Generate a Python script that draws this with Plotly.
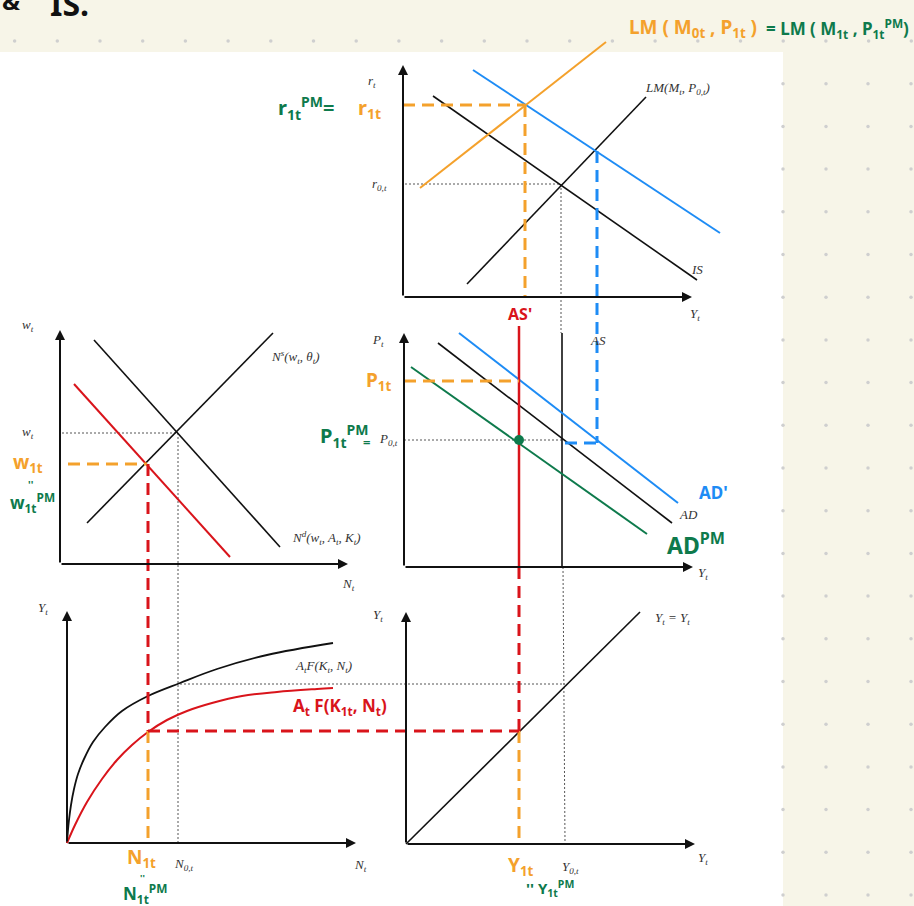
import plotly.graph_objects as go

W, H = 914, 906

# ---------------- background dot grid ----------------
dot_row_y = 41
dot_cols_x = [14.6 + 42.7 * k for k in range(22)]
side_cols_x = [783, 826, 868, 911]
side_rows_y = [41 + 42.7 * j for j in range(1, 21)]

# ---------------- panel axes (origin, top tip, right tip) ----------------
ax_origin_x = [403, 60, 404, 67, 406]
ax_origin_y = [297, 564, 567, 843, 844]
ax_top_y = [65, 330, 333, 611, 612]
ax_right_x = [692, 348, 693, 356, 695]

# ---------------- IS-LM panel ----------------
IS_x, IS_y = [433, 697], [96, 280]
LM_x, LM_y = [467, 646], [284, 97]
IS1_x, IS1_y = [473, 720], [70, 233]
LM1_x, LM1_y = [420, 606], [188, 42]

# ---------------- labour market ----------------
NS_x, NS_y = [87, 273], [523, 333]
ND_x, ND_y = [94, 280], [340, 547]
ND1_x, ND1_y = [74, 230], [384, 557]

# ---------------- AS-AD ----------------
AD_x, AD_y = [438, 672], [343, 523]
AD1_x, AD1_y = [459, 678], [333, 503]
ADPM_x, ADPM_y = [411, 647], [367, 534]
AS_x, AS_y = [562, 562], [333, 567]
AS1_x, AS1_y = [519, 519], [326, 567]
eq_pt_x, eq_pt_y = [519], [440]

# ---------------- production function ----------------
PF_x = [67, 68, 69, 71, 74, 78, 84, 93, 105, 122, 148, 180, 217, 267, 333]
PF_y = [843, 830, 820, 805, 789, 774, 759, 742, 727, 711, 696, 683, 669, 655, 643]
PF1_x = [67, 75, 87, 102, 117, 132, 148, 167, 187, 212, 242, 277, 317, 333]
PF1_y = [843, 825, 802, 779, 760, 745, 732, 720, 711, 703, 696, 692, 689, 688]

# ---------------- 45 degree ----------------
D45_x, D45_y = [406, 640], [844, 612]

# ---------------- reference (dotted) lines ----------------
dot_lines = [
    ([405, 561], [184, 184]),
    ([561, 561], [184, 333]),
    ([62, 178], [433, 433]),
    ([178, 178], [433, 843]),
    ([404, 562], [440, 440]),
    ([563, 565], [567, 843]),
    ([180, 565], [684, 684]),
]

# ---------------- dashed guides ----------------
orange_dash = [
    ([403, 525], [105, 105]),
    ([525, 525], [105, 297]),
    ([68, 147], [464, 464]),
    ([404, 519], [381, 381]),
    ([148, 148], [731, 843]),
    ([519, 519], [731, 844]),
]
red_dash = [
    ([148, 148], [464, 731]),
    ([519, 519], [567, 731]),
    ([148, 519], [731, 731]),
]
blue_dash = [
    ([597, 597], [151, 443]),
    ([565, 597], [443, 443]),
]

ORANGE = "#F4A12C"
BLUE = "#1E8CF5"
RED = "#D9141B"
GREEN = "#0E7A4C"
BLACK = "#111111"

fig = go.Figure()


def seg(x, y, color, width=1.6, dash="solid", shape="linear"):
    fig.add_trace(go.Scatter(x=x, y=y, mode="lines",
                             line=dict(color=color, width=width, dash=dash, shape=shape),
                             hoverinfo="skip", showlegend=False))


# dots
fig.add_trace(go.Scatter(x=dot_cols_x, y=[dot_row_y] * len(dot_cols_x), mode="markers",
                         marker=dict(size=3.5, color="#CFCFCF"), hoverinfo="skip", showlegend=False))
sx, sy = [], []
for cx in side_cols_x:
    for ry in side_rows_y:
        sx.append(cx)
        sy.append(ry)
fig.add_trace(go.Scatter(x=sx, y=sy, mode="markers",
                         marker=dict(size=3.5, color="#CFCFCF"), hoverinfo="skip", showlegend=False))

# dotted lines
for x, y in dot_lines:
    seg(x, y, "#555555", 1, "2px,2px")

# black curves
seg(IS_x, IS_y, BLACK, 1.6)
seg(LM_x, LM_y, BLACK, 1.6)
seg(NS_x, NS_y, BLACK, 1.6)
seg(ND_x, ND_y, BLACK, 1.6)
seg(AD_x, AD_y, BLACK, 1.6)
seg(AS_x, AS_y, BLACK, 1.6)
seg(PF_x, PF_y, BLACK, 1.8, shape="spline")
seg(D45_x, D45_y, BLACK, 1.6)

# coloured curves
seg(IS1_x, IS1_y, BLUE, 2)
seg(LM1_x, LM1_y, ORANGE, 2)
seg(ND1_x, ND1_y, RED, 2)
seg(AD1_x, AD1_y, BLUE, 2)
seg(ADPM_x, ADPM_y, GREEN, 2)
seg(AS1_x, AS1_y, RED, 2.5)
seg(PF1_x, PF1_y, RED, 2, shape="spline")

for x, y in orange_dash:
    seg(x, y, ORANGE, 3, "12px,7px")
for x, y in red_dash:
    seg(x, y, RED, 3, "12px,7px")
for x, y in blue_dash:
    seg(x, y, BLUE, 3, "12px,7px")

fig.add_trace(go.Scatter(x=eq_pt_x, y=eq_pt_y, mode="markers",
                         marker=dict(size=10, color=GREEN), hoverinfo="skip", showlegend=False))

annotations = []
# axes with arrows
for ox, oy, ty, rx in zip(ax_origin_x, ax_origin_y, ax_top_y, ax_right_x):
    annotations.append(dict(x=ox, y=ty, ax=ox, ay=oy, xref="x", yref="y", axref="x", ayref="y",
                            showarrow=True, arrowhead=2, arrowsize=1, arrowwidth=2,
                            arrowcolor=BLACK, text=""))
    annotations.append(dict(x=rx, y=oy, ax=ox, ay=oy, xref="x", yref="y", axref="x", ayref="y",
                            showarrow=True, arrowhead=2, arrowsize=1, arrowwidth=2,
                            arrowcolor=BLACK, text=""))

SERIF = "Liberation Serif"
math_labels = [
    ("r<sub>t</sub>", 372, 81, "center"),
    ("r<sub>0,t</sub>", 379, 184, "center"),
    ("LM(M<sub>t</sub>, P<sub>0,t</sub>)", 677, 88, "center"),
    ("IS", 697, 269, "center"),
    ("Y<sub>t</sub>", 695, 314, "center"),
    ("w<sub>t</sub>", 28, 325, "center"),
    ("w<sub>t</sub>", 28, 432, "center"),
    ("N<sup>s</sup>(w<sub>t</sub>, θ<sub>t</sub>)", 269, 357, "left"),
    ("N<sup>d</sup>(w<sub>t</sub>, A<sub>t</sub>, K<sub>t</sub>)", 290, 538, "left"),
    ("N<sub>t</sub>", 348, 584, "center"),
    ("P<sub>t</sub>", 378, 340, "center"),
    ("P<sub>0,t</sub>", 388, 439, "center"),
    ("AS", 598, 340, "center"),
    ("AD", 688, 514, "center"),
    ("Y<sub>t</sub>", 703, 573, "center"),
    ("Y<sub>t</sub>", 43, 608, "center"),
    ("A<sub>t</sub>F(K<sub>t</sub>, N<sub>t</sub>)", 323, 666, "center"),
    ("N<sub>0,t</sub>", 183, 864, "center"),
    ("N<sub>t</sub>", 360, 865, "center"),
    ("Y<sub>t</sub>", 378, 615, "center"),
    ("Y<sub>t</sub> = Y<sub>t</sub>", 672, 618, "center"),
    ("Y<sub>t</sub>", 703, 858, "center"),
    ("Y<sub>0,t</sub>", 570, 867, "center"),
]
for txt, x, y, anc in math_labels:
    annotations.append(dict(x=x, y=y, xref="x", yref="y", text="<i>" + txt + "</i>",
                            showarrow=False, xanchor=anc, yanchor="middle",
                            font=dict(family=SERIF, size=13, color="#333333")))

HAND = "Noto Sans"
hand_labels = [
    ("&", 0, 0, "left", BLACK, 24),
    ("IS.", 48, 3, "left", BLACK, 32),
    ("LM ( M<sub>0t</sub> , P<sub>1t</sub> )", 627, 28, "left", ORANGE, 19),
    ("= LM ( M<sub>1t</sub> , P<sub>1t</sub><sup>PM</sup>)", 764, 28, "left", GREEN, 17),
    ("r<sub>1t</sub><sup>PM</sup>=", 276, 108, "left", GREEN, 20),
    ("r<sub>1t</sub>", 356, 108, "left", ORANGE, 20),
    ("w<sub>1t</sub>", 11, 463, "left", ORANGE, 19),
    ("''", 26, 485, "left", GREEN, 10),
    ("w<sub>1t</sub><sup>PM</sup>", 8, 502, "left", GREEN, 17),
    ("P<sub>1t</sub>", 364, 381, "left", ORANGE, 19),
    ("P<sub>1t</sub><sup>PM</sup>", 318, 436, "left", GREEN, 20),
    ("=", 361, 442, "left", GREEN, 13),
    ("AS'", 506, 314, "left", RED, 16),
    ("AD'", 697, 492, "left", BLUE, 17),
    ("AD<sup>PM</sup>", 665, 544, "left", GREEN, 23),
    ("A<sub>t</sub> F(K<sub>1t</sub>, N<sub>t</sub>)", 291, 706, "left", RED, 17),
    ("N<sub>1t</sub>", 125, 858, "left", ORANGE, 19),
    ("''", 138, 877, "left", GREEN, 9),
    ("N<sub>1t</sub><sup>PM</sup>", 121, 893, "left", GREEN, 17),
    ("Y<sub>1t</sub>", 506, 866, "left", ORANGE, 19),
    ("'' Y<sub>1t</sub><sup>PM</sup>", 524, 888, "left", GREEN, 15),
]
for txt, x, y, anc, col, sz in hand_labels:
    annotations.append(dict(x=x, y=y, xref="x", yref="y", text="<b>" + txt + "</b>",
                            showarrow=False, xanchor=anc, yanchor="middle",
                            font=dict(family=HAND, size=sz, color=col)))

fig.update_layout(
    width=W, height=H,
    margin=dict(l=0, r=0, t=0, b=0, pad=0),
    paper_bgcolor="#F7F5E8", plot_bgcolor="#F7F5E8",
    xaxis=dict(range=[0, W], visible=False, fixedrange=True),
    yaxis=dict(range=[H, 0], visible=False, fixedrange=True),
    shapes=[dict(type="rect", xref="x", yref="y", x0=0, x1=783, y0=52, y1=H,
                 fillcolor="white", line=dict(width=0), layer="below")],
    annotations=annotations,
    showlegend=False,
)

fig.write_html("out.html", config={"displayModeBar": False},
               post_script="document.body.style.margin='0';document.body.style.overflow='hidden';")
